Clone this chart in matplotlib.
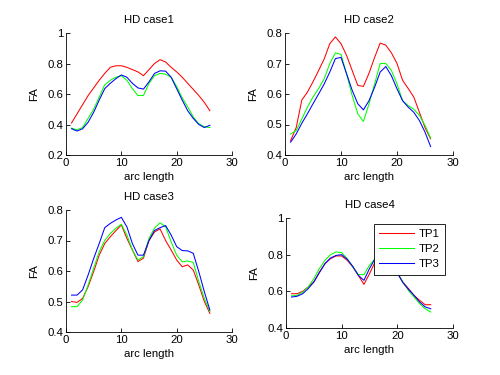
import matplotlib
matplotlib.use("Agg")
import matplotlib.pyplot as plt
from matplotlib.ticker import FuncFormatter

arc = list(range(1, 27))

case1_tp1 = [0.41, 0.47, 0.53, 0.59, 0.64, 0.69, 0.735, 0.775, 0.785, 0.785, 0.775, 0.76, 0.745, 0.72,
             0.76, 0.80, 0.825, 0.81, 0.775, 0.745, 0.71, 0.67, 0.63, 0.59, 0.545, 0.49]
case1_tp2 = [0.376, 0.365, 0.38, 0.44, 0.50, 0.58, 0.66, 0.69, 0.71, 0.72, 0.69, 0.635, 0.59, 0.59,
             0.67, 0.72, 0.735, 0.73, 0.71, 0.65, 0.575, 0.515, 0.45, 0.405, 0.385, 0.38]
case1_tp3 = [0.372, 0.357, 0.372, 0.415, 0.48, 0.56, 0.635, 0.67, 0.70, 0.725, 0.71, 0.67, 0.64, 0.632,
             0.68, 0.735, 0.752, 0.75, 0.71, 0.635, 0.56, 0.49, 0.44, 0.40, 0.38, 0.395]

case2_tp1 = [0.447, 0.49, 0.58, 0.606, 0.64, 0.677, 0.715, 0.765, 0.787, 0.765, 0.726, 0.677, 0.628, 0.625,
             0.668, 0.72, 0.767, 0.76, 0.735, 0.70, 0.645, 0.618, 0.59, 0.54, 0.49, 0.453]
case2_tp2 = [0.469, 0.48, 0.518, 0.557, 0.59, 0.618, 0.65, 0.70, 0.735, 0.73, 0.666, 0.595, 0.535, 0.51,
             0.567, 0.633, 0.70, 0.70, 0.677, 0.633, 0.578, 0.562, 0.55, 0.53, 0.497, 0.456]
case2_tp3 = [0.442, 0.469, 0.504, 0.535, 0.568, 0.60, 0.633, 0.672, 0.716, 0.72, 0.666, 0.612, 0.568, 0.548,
             0.578, 0.622, 0.672, 0.69, 0.66, 0.617, 0.578, 0.557, 0.54, 0.513, 0.475, 0.428]

case3_tp1 = [0.50, 0.497, 0.51, 0.549, 0.598, 0.652, 0.69, 0.712, 0.732, 0.751, 0.707, 0.669, 0.631, 0.642,
             0.70, 0.728, 0.738, 0.70, 0.669, 0.636, 0.614, 0.62, 0.603, 0.554, 0.50, 0.461]
case3_tp2 = [0.483, 0.483, 0.505, 0.554, 0.609, 0.663, 0.70, 0.723, 0.74, 0.753, 0.718, 0.669, 0.636, 0.647,
             0.707, 0.741, 0.758, 0.745, 0.696, 0.652, 0.63, 0.633, 0.628, 0.565, 0.51, 0.467]
case3_tp3 = [0.521, 0.521, 0.538, 0.587, 0.641, 0.69, 0.742, 0.756, 0.767, 0.776, 0.745, 0.69, 0.652, 0.652,
             0.70, 0.733, 0.742, 0.749, 0.718, 0.68, 0.667, 0.666, 0.658, 0.598, 0.532, 0.472]

case4_tp1 = [0.587, 0.587, 0.60, 0.624, 0.651, 0.705, 0.751, 0.778, 0.793, 0.793, 0.769, 0.733, 0.687, 0.638,
             0.696, 0.76, 0.80, 0.80, 0.76, 0.70, 0.651, 0.615, 0.578, 0.551, 0.527, 0.527]
case4_tp2 = [0.575, 0.578, 0.596, 0.624, 0.669, 0.724, 0.769, 0.80, 0.815, 0.811, 0.778, 0.733, 0.691, 0.691,
             0.742, 0.778, 0.80, 0.80, 0.76, 0.70, 0.651, 0.605, 0.569, 0.533, 0.505, 0.487]
case4_tp3 = [0.569, 0.573, 0.587, 0.615, 0.651, 0.702, 0.751, 0.782, 0.796, 0.80, 0.775, 0.736, 0.687, 0.66,
             0.724, 0.778, 0.80, 0.80, 0.76, 0.70, 0.647, 0.611, 0.578, 0.542, 0.515, 0.505]

titles = ["HD case1", "HD case2", "HD case3", "HD case4"]
series = [(case1_tp1, case1_tp2, case1_tp3), (case2_tp1, case2_tp2, case2_tp3),
          (case3_tp1, case3_tp2, case3_tp3), (case4_tp1, case4_tp2, case4_tp3)]
ylims = [(0.2, 1.0), (0.4, 0.8), (0.4, 0.8), (0.4, 1.0)]
yticks = [[0.2, 0.4, 0.6, 0.8, 1.0], [0.4, 0.5, 0.6, 0.7, 0.8],
          [0.4, 0.5, 0.6, 0.7, 0.8], [0.4, 0.6, 0.8, 1.0]]
xticks = [0, 10, 20, 30]
labels = ["TP1", "TP2", "TP3"]
colors = ["#ff0000", "#00ff00", "#0000ff"]

plt.rcParams['font.family'] = ['Liberation Sans', 'DejaVu Sans']
fs = 8.2

W, H = 500.0, 375.0
# pixel boxes: left, right, top, bottom
boxes = [(66, 232, 33, 155), (285, 453, 33, 155), (66, 232, 210, 332), (286, 453, 218, 328)]

fig = plt.figure(figsize=(5, 3.75), dpi=100)
fmt = FuncFormatter(lambda v, p: "%g" % round(v, 3))
for i in range(4):
    l, r, t, b = boxes[i]
    ax = fig.add_axes([l / W, 1 - b / H, (r - l) / W, (b - t) / H])
    for s, c, lab in zip(series[i], colors, labels):
        ax.plot(arc, s, color=c, lw=0.75, label=lab)
    ax.set_xlim(0, 30)
    ax.set_ylim(*ylims[i])
    ax.set_xticks(xticks)
    ax.set_yticks(yticks[i])
    ax.yaxis.set_major_formatter(fmt)
    ax.xaxis.set_major_formatter(fmt)
    ax.spines['top'].set_visible(False)
    ax.spines['right'].set_visible(False)
    ax.spines['left'].set_linewidth(0.6)
    ax.spines['bottom'].set_linewidth(0.6)
    ax.tick_params(direction='in', length=3, width=0.6, labelsize=fs, pad=2)
    ax.set_title(titles[i], fontsize=fs, pad=7)
    ax.set_xlabel("arc length", fontsize=fs, labelpad=3)
    ax.set_ylabel("FA", fontsize=fs, labelpad=6)
    if i == 3:
        leg = ax.legend(loc='upper left', bbox_to_anchor=(374 / W, 1 - 224 / H),
                        bbox_transform=fig.transFigure, fontsize=fs, frameon=True,
                        fancybox=False, borderaxespad=0, handlelength=3.1,
                        borderpad=0.45, labelspacing=0.45, handletextpad=0.4)
        leg.get_frame().set_edgecolor('black')
        leg.get_frame().set_linewidth(0.6)
        leg.get_frame().set_alpha(1)

fig.savefig("out.png", dpi=100)
